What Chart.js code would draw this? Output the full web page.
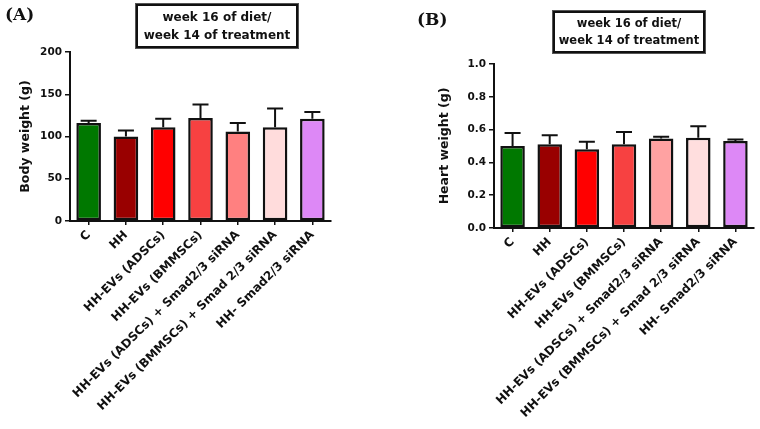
<!DOCTYPE html>
<html>
<head>
<meta charset="utf-8">
<script src="https://cdn.jsdelivr.net/npm/chart.js@4"></script>
<style>
  body { margin: 0; background: #fff; }
  #wrap { position: relative; width: 760px; height: 429px; overflow: hidden; }
  canvas { position: absolute; top: 0; }
  .panel { position: absolute; font-family: "DejaVu Serif", serif; font-weight: bold; font-size: 17px; color: #111; }
  .box { position: absolute; box-sizing: border-box; border: 2px solid #111; outline: 1px solid #555;
         font-family: "DejaVu Sans", sans-serif; font-weight: bold; color: #111; text-align: center;
         display: flex; flex-direction: column; justify-content: center; }
</style>
</head>
<body>
<div id="wrap">
  <canvas id="chartA" width="380" height="429" style="left:0"></canvas>
  <canvas id="chartB" width="380" height="429" style="left:380px"></canvas>
  <div class="panel" style="left:5px; top:4px">(A)</div>
  <div class="panel" style="left:417px; top:9px">(B)</div>
  <div class="box" style="left:136px; top:4px; width:162px; height:44px; font-size:12px; line-height:18px">
    <div>week 16 of diet/</div><div>week 14 of treatment</div>
  </div>
  <div class="box" style="left:553px; top:11px; width:152px; height:42px; font-size:11.5px; line-height:17px">
    <div>week 16 of diet/</div><div>week 14 of treatment</div>
  </div>
</div>
<script>
const categories = ['C', 'HH', 'HH-EVs (ADSCs)', 'HH-EVs (BMMSCs)', 'HH-EVs (ADSCs) + Smad2/3 siRNA',
                    'HH-EVs (BMMSCs) + Smad 2/3 siRNA', 'HH- Smad2/3 siRNA'];
const bodyWeight = [116, 100, 111, 122, 106, 111, 121];
const bodyWeightErr = [2.5, 7, 10, 16, 10, 22, 8];
const heartWeight = [0.50, 0.51, 0.48, 0.51, 0.545, 0.55, 0.53];
const heartWeightErr = [0.08, 0.055, 0.046, 0.075, 0.012, 0.07, 0.01];
const bodyTicks = [0, 50, 100, 150, 200];
const heartTicks = [0.0, 0.2, 0.4, 0.6, 0.8, 1.0];

const colorsA = ['#007800', '#990000', '#ff0000', '#f74141', '#ff8080', '#ffdcdc', '#dd88f6'];
const colorsB = ['#007800', '#990000', '#ff0000', '#f74141', '#ffa2a2', '#ffdede', '#dd88f6'];

const ink = '#111';

function makeChart(id, values, errors, colors, yTitle, ticks, decimals, box) {
    // upper-only error bars like GraphPad
    const errorBars = {
        id: 'errorBars',
        afterDatasetsDraw(chart) {
            const meta = chart.getDatasetMeta(0);
            const y = chart.scales.y;
            const c = chart.ctx;
            c.save();
            c.strokeStyle = ink;
            c.lineWidth = 2;
            meta.data.forEach((bar, i) => {
                const top = y.getPixelForValue(values[i] + errors[i]);
                c.beginPath();
                c.moveTo(bar.x, bar.y);
                c.lineTo(bar.x, top);
                c.moveTo(bar.x - 8, top);
                c.lineTo(bar.x + 8, top);
                c.stroke();
            });
            c.restore();
        }
    };

    return new Chart(document.getElementById(id), {
        type: 'bar',
        data: {
            labels: categories,
            datasets: [{
                data: values,
                backgroundColor: colors,
                borderColor: ink,
                borderWidth: 2.5,
                borderSkipped: false,
                categoryPercentage: 1,
                barPercentage: 0.66
            }]
        },
        options: {
            responsive: false,
            animation: false,
            layout: { padding: { left: box.padLeft, top: box.top, right: box.padRight, bottom: 0 } },
            plugins: { legend: { display: false }, tooltip: { enabled: false } },
            scales: {
                x: {
                    grid: { drawOnChartArea: false, offset: false, tickLength: 4, color: ink, lineWidth: 1.5 },
                    border: { color: ink, width: 2 },
                    ticks: {
                        autoSkip: false, minRotation: 45, maxRotation: 45, padding: 3, color: ink,
                        font: { family: 'DejaVu Sans', weight: 'bold', size: 12 }
                    },
                    afterFit: s => { s.height = 429 - box.bottom; }
                },
                y: {
                    min: ticks[0],
                    max: ticks[ticks.length - 1],
                    grid: { drawOnChartArea: false, tickLength: 5, color: ink, lineWidth: 1.5 },
                    border: { color: ink, width: 2 },
                    ticks: {
                        stepSize: ticks[1] - ticks[0], padding: 3, color: ink,
                        font: { family: 'DejaVu Sans', weight: 'bold', size: 10.5 },
                        callback: v => Number(v).toFixed(decimals)
                    },
                    title: {
                        display: true, text: yTitle, color: ink,
                        font: { family: 'DejaVu Sans', weight: 'bold', size: 12.5 }
                    },
                    afterFit: s => { s.width = box.left - box.padLeft; }
                }
            }
        },
        plugins: [errorBars]
    });
}

makeChart('chartA', bodyWeight, bodyWeightErr, colorsA, 'Body weight (g)', bodyTicks, 0,
          { padLeft: 14, left: 70, top: 52, bottom: 221, padRight: 49 });
makeChart('chartB', heartWeight, heartWeightErr, colorsB, 'Heart weight (g)', heartTicks, 1,
          { padLeft: 53, left: 114, top: 64, bottom: 228, padRight: 6 });
</script>
</body>
</html>
